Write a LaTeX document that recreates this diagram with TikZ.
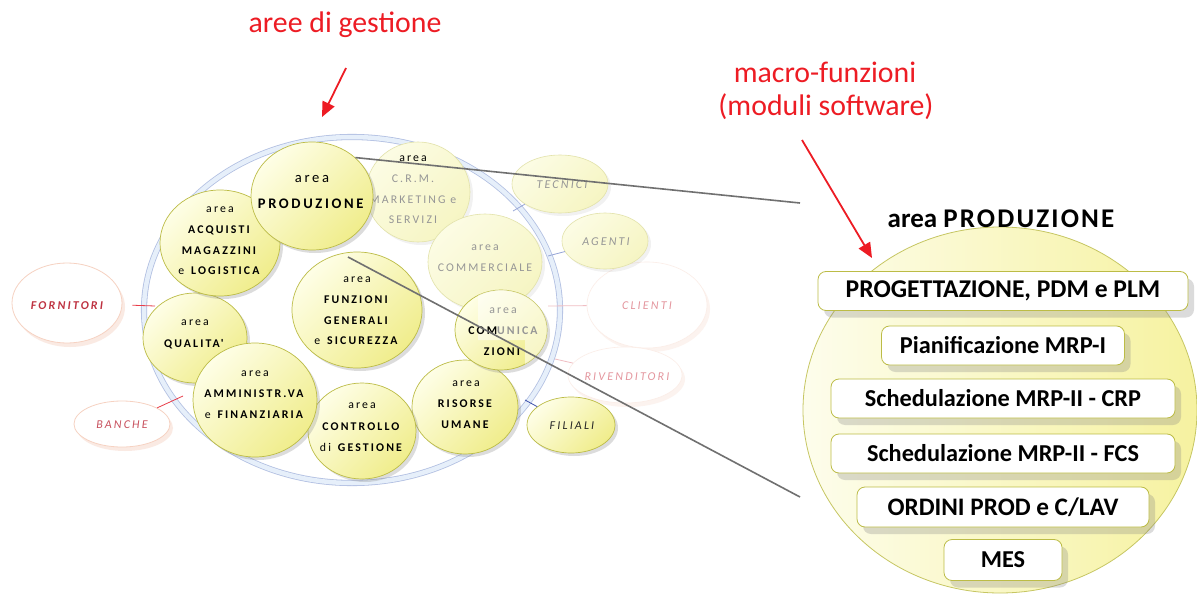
\documentclass[tikz,border=0pt]{standalone}
\usepackage{fontspec}
\setmainfont{Carlito}
\newfontfamily\spc[LetterSpace=18]{Carlito}
\usetikzlibrary{shapes.geometric,shadows,arrows.meta}
\definecolor{ylwL}{RGB}{254,254,230}
\definecolor{ylwD}{RGB}{240,237,140}
\definecolor{olv}{RGB}{188,188,70}
\definecolor{fadeF}{RGB}{252,252,228}
\definecolor{fadeY}{RGB}{246,245,195}
\definecolor{fadeD}{RGB}{226,226,170}
\definecolor{ringB}{RGB}{178,192,226}
\definecolor{ringF}{RGB}{230,239,250}
\definecolor{redT}{RGB}{237,28,36}
\definecolor{redL}{RGB}{232,60,72}
\definecolor{darkred}{RGB}{190,50,65}
\definecolor{pinkT}{RGB}{228,150,158}
\definecolor{pinkL}{RGB}{240,190,195}
\definecolor{blueL}{RGB}{60,80,170}
\definecolor{fblueL}{RGB}{150,165,215}
\definecolor{salmon}{RGB}{246,210,194}
\definecolor{lineG}{RGB}{112,112,112}
\definecolor{fadeT}{RGB}{150,150,150}
\definecolor{bigL}{RGB}{253,253,236}
\definecolor{bigD}{RGB}{246,242,160}
\tikzset{
  circ/.style={ellipse, draw=olv, line width=0.7pt, top color=ylwL, bottom color=ylwD, shading angle=45, inner sep=0pt,
    drop shadow={shadow xshift=3pt, shadow yshift=-3pt, opacity=.3, fill=black!45}},
  fcirc/.style={ellipse, draw=fadeD, line width=0.6pt, top color=fadeF, bottom color=fadeY, shading angle=45, inner sep=0pt,
    drop shadow={shadow xshift=3pt, shadow yshift=-3pt, opacity=.12, fill=black!45}},
  pcirc/.style={ellipse, draw=salmon, line width=0.8pt, fill=white, inner sep=0pt,
    drop shadow={shadow xshift=3pt, shadow yshift=-4pt, opacity=.45, fill=salmon}},
  fpcirc/.style={ellipse, draw=salmon!40, line width=0.6pt, fill=white, inner sep=0pt,
    drop shadow={shadow xshift=3pt, shadow yshift=-4pt, opacity=.25, fill=salmon}},
  ctx/.style={anchor=north, align=center, inner sep=0pt, font=\spc\fontsize{11.8}{20.8}\selectfont},
  sat/.style={inner sep=0pt, font=\spc\itshape\fontsize{12}{14}\selectfont},
  redln/.style={draw=redL, line width=0.8pt},
  pinkln/.style={draw=pinkL, line width=0.8pt},
  blueln/.style={draw=blueL, line width=0.8pt},
  fblueln/.style={draw=fblueL, line width=0.8pt},
  zoomln/.style={draw=lineG, line width=1.6pt},
  redarr/.style={draw=redT, line width=1.8pt, -{Triangle[length=15pt,width=13pt]}},
  redlab/.style={anchor=base, inner sep=0pt, text=redT, font=\fontsize{29.8}{34}\selectfont},
  mbox/.style={draw=olv, fill=white, line width=0.8pt, rounded corners=8pt, minimum height=39pt, inner sep=0pt,
    font=\bfseries\fontsize{24.3}{28}\selectfont,
    drop shadow={shadow xshift=6pt, shadow yshift=-7pt, opacity=.28, fill=black!50}},
}
\begin{document}
\begin{tikzpicture}[x=1pt,y=-1pt]
\useasboundingbox (0,0) rectangle (1197,594);
\fill[white] (0,0) rectangle (1197,594);

% ring
\node[ellipse, minimum width=416pt, minimum height=346pt, draw=ringB, line width=0.8pt, double=ringF, double distance=4.5pt] (ring) at (352,310) {};

% faded external elements
\node[fpcirc, minimum width=120pt, minimum height=86pt] (clie) at (647,305) {};
\node[fpcirc, minimum width=114pt, minimum height=56pt] (rive) at (625,375) {};
\node[fcirc, minimum width=96pt, minimum height=58pt] (tecn) at (560,184) {};
\node[fcirc, minimum width=86pt, minimum height=56pt] (agen) at (605,241) {};
\node[fcirc, minimum width=104pt, minimum height=100pt] (crm) at (418,192) {};
\node[ctx, text=fadeT] (crm-t) at (413,155.6) {\textcolor{black}{area}\\C.R.M.\\MARKETING e\\SERVIZI};
\node[fcirc, minimum width=114pt, minimum height=96pt] (comm) at (485,262) {};
\node[ctx, text=fadeT] (comm-t) at (485,244.6) {area\\COMMERCIALE};

% ring attachment points
\coordinate (rF) at (155,306);
\coordinate (rB) at (183,396);
\coordinate (rT) at (513,211);
\coordinate (rA) at (548,256);
\coordinate (rC) at (548,306);
\coordinate (rR) at (555,359);
\coordinate (rFi) at (525,400);

% external partners
\node[pcirc, minimum width=110pt, minimum height=80pt] (forn) at (67,303) {};
\node[pcirc, minimum width=96pt, minimum height=46pt] (banc) at (122,424) {};
\node[circ, minimum width=88pt, minimum height=56pt] (fili) at (571,425) {};

\draw[redln, shorten <=10pt] (forn) -- (rF);
\draw[redln] (banc) -- (rB);
\draw[fblueln] (tecn) -- (rT);
\draw[fblueln] (agen) -- (rA);
\draw[pinkln] (clie) -- (rC);
\draw[pinkln] (rive) -- (rR);
\draw[blueln] (fili) -- (rFi);

% management areas
\node[circ, minimum width=106pt, minimum height=94pt] (ris) at (465,407) {};
\node[circ, minimum width=108pt, minimum height=96pt] (ctrl) at (362,431) {};
\node[circ, minimum width=92pt, minimum height=80pt] (com) at (501,330) {};
\begin{scope}
  \clip (501,330) ellipse [x radius=46pt, y radius=40pt];
  \fill[white, opacity=.5] (478,285) -- (552,285) -- (552,375) -- (525,375) -- (525,340) -- (478,340) -- cycle;
\end{scope}
\node[circ, minimum width=130pt, minimum height=116pt] (funz) at (357,310) {};
\node[circ, minimum width=104pt, minimum height=90pt] (qual) at (195,338) {};
\node[circ, minimum width=124pt, minimum height=114pt] (amm) at (255,400) {};
\node[circ, minimum width=120pt, minimum height=106pt] (acq) at (220,243) {};
\node[circ, minimum width=122pt, minimum height=108pt] (prod) at (312,196) {};

% texts of areas
\node[ctx, font=\spc\fontsize{14.6}{26}\selectfont] (prod-t) at (312,175.2) {area\\\textbf{PRODUZIONE}};
\node[ctx] (acq-t) at (220,206.6) {area\\\textbf{ACQUISTI}\\\textbf{MAGAZZINI}\\e \textbf{LOGISTICA}};
\node[ctx, font=\spc\fontsize{11.8}{22}\selectfont] (qual-t) at (195,319.6) {area\\\textbf{QUALITA'}};
\node[ctx] (amm-t) at (255,370.6) {area\\\textbf{AMMINISTR.VA}\\e \textbf{FINANZIARIA}};
\node[ctx, font=\spc\fontsize{11.8}{21.5}\selectfont] (ctrl-t) at (362,402.6) {area\\\textbf{CONTROLLO}\\di \textbf{GESTIONE}};
\node[ctx] (funz-t) at (357,276.6) {area\\\textbf{FUNZIONI}\\\textbf{GENERALI}\\e \textbf{SICUREZZA}};
\node[ctx] (ris-t) at (466,380.6) {area\\\textbf{RISORSE}\\\textbf{UMANE}};
\node[ctx] (com-t) at (503,307.6) {\textcolor{fadeT}{area}\\\textbf{COM\textcolor{fadeT}{UNICA}}\\\textbf{ZIONI}};

\node[sat, text=darkred, font=\spc\bfseries\itshape\fontsize{12}{14}\selectfont] (forn-t) at (67,306) {FORNITORI};
\node[sat, text=darkred!85] (banc-t) at (122,425) {BANCHE};
\node[sat, text=fadeT] (tecn-t) at (562,185) {TECNICI};
\node[sat, text=fadeT] (agen-t) at (606,242) {AGENTI};
\node[sat, text=pinkT] (clie-t) at (647,306) {CLIENTI};
\node[sat, text=pinkT] (rive-t) at (627,377) {RIVENDITORI};
\node[sat, text=black!85] (fili-t) at (572,426) {FILIALI};

% zoom lines
\coordinate (zS2) at (348,257);
\coordinate (zE1) at (800,203);
\coordinate (zE2) at (800,497);
\draw[zoomln] (prod.north east) -- (zE1);
\draw[zoomln] (zS2) -- (zE2);

% right detail
\node[ellipse, minimum width=394pt, minimum height=366pt, draw=olv!85, line width=0.8pt, left color=bigL, right color=bigD] (bigc) at (1000,410) {};
\node[anchor=base, inner sep=0pt, font=\bfseries\fontsize{27}{31}\selectfont] (ttl) at (1001,227) {area {\addfontfeature{LetterSpace=8}PRODUZIONE}};
\node[mbox, minimum width=370pt, font=\bfseries\fontsize{25.6}{28}\selectfont] (b1) at (1003,291) {PROGETTAZIONE, PDM e PLM};
\node[mbox, minimum width=243pt] (b2) at (1003,345.5) {Pianificazione MRP-I};
\node[mbox, minimum width=344pt] (b3) at (1003,398.5) {Schedulazione MRP-II - CRP};
\node[mbox, minimum width=344pt] (b4) at (1003,453.5) {Schedulazione MRP-II - FCS};
\node[mbox, minimum width=292pt, minimum height=40pt, font=\bfseries\fontsize{25.2}{28}\selectfont] (b5) at (1003,507) {ORDINI PROD e C/LAV};
\node[mbox, minimum width=118pt, minimum height=41pt] (b6) at (1003,560) {MES};

% red labels
\node[redlab] (lab1) at (345,33) {aree di gestione};
\node[redlab] (lab2) at (825,82) {macro-funzioni};
\node[redlab] (lab3) at (826,115) {(moduli software)};
\coordinate (a1s) at (346,68);
\coordinate (a1e) at (322,117);
\coordinate (a2s) at (802,140);
\coordinate (a2e) at (872,258);
\draw[redarr] (a1s) -- (a1e);
\draw[redarr] (a2s) -- (a2e);
\end{tikzpicture}
\end{document}
